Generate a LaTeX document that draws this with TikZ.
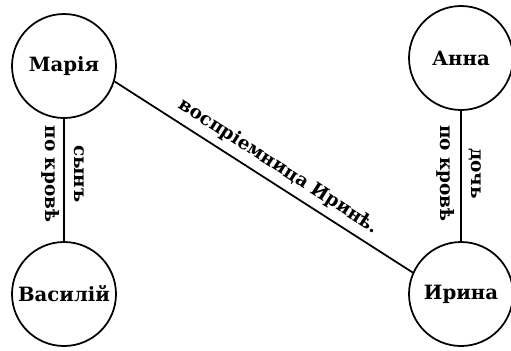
\documentclass[tikz,border=0pt]{standalone}
\usepackage{fontspec}
\setmainfont{DejaVu Serif}
\begin{document}
\begin{tikzpicture}[line width=1pt,
    person/.style={draw, circle, minimum size=2.08cm, inner sep=0pt,
                   font=\fontsize{11.2}{13}\selectfont\bfseries},
    rel/.style={font=\fontsize{10.5}{12}\selectfont\bfseries, inner sep=0pt}]
    \useasboundingbox (0,0) rectangle (10.22,7.0);

    \node[person] (maria)  at (1.28,5.68) {Марія};
    \node[person] (anna)   at (9.22,5.84) {Анна};
    \node[person] (vasily) at (1.28,1.12) {Василій};
    \node[person] (irina)  at (9.22,1.12) {Ирина};

    \draw (maria) -- (vasily)
        node[rel, pos=0.45, xshift=-0.26cm, rotate=-90] {по кровѣ}
        node[rel, pos=0.45, xshift=0.3cm, rotate=-90] {сынъ};
    \draw (anna) -- (irina)
        node[rel, pos=0.48, xshift=-0.3cm, rotate=-90] {по кровѣ}
        node[rel, pos=0.48, xshift=0.28cm, rotate=-90] {дочь};
    \draw (maria.-17) -- (irina.156)
        node[rel, pos=0.52, sloped, above=4pt] {воспріемница Иринѣ.};
\end{tikzpicture}
\end{document}
